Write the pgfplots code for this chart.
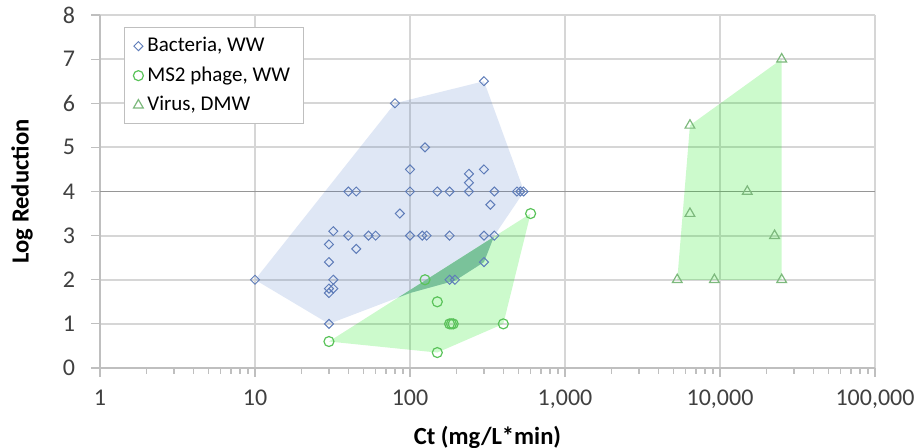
\documentclass[border=0pt]{standalone}
\usepackage{fontspec}
\setmainfont{Carlito}
\usepackage{pgfplots}
\pgfplotsset{compat=1.18}
\usepackage{pgfplotstable}

\definecolor{gridgray}{RGB}{214,214,214}
\definecolor{axgray}{RGB}{191,191,191}
\definecolor{darkgrid}{RGB}{150,150,150}
\definecolor{bactfill}{RGB}{68,114,196}
\definecolor{bactmark}{RGB}{95,125,185}
\definecolor{greenfill}{RGB}{0,230,0}
\definecolor{ms2mark}{RGB}{90,195,90}
\definecolor{virmark}{RGB}{125,185,125}
\definecolor{overlap}{RGB}{122,194,154}
\definecolor{labgray}{RGB}{64,64,64}

% measured points
\pgfplotstableread{
x y
300 6.5
80 6
125 5
100 4.5
240 4.4
300 4.5
240 4.2
40 4
45 4
100 4
150 4
180 4
240 4
350 4
490 4
515 4
540 4
330 3.7
86 3.5
32 3.1
40 3
54 3
60 3
100 3
120 3
128 3
180 3
300 3
350 3
30 2.8
45 2.7
30 2.4
300 2.4
32 2
180 2
195 2
30 1.8
32 1.8
30 1.7
10 2
30 1
}\bacteria

\pgfplotstableread{
x y
30 0.6
125 2
150 1.5
180 1
185 1
190 1
400 1
600 3.5
150 0.35
}\msphage

\pgfplotstableread{
x y
25000 7
6400 5.5
15000 4
6400 3.5
22500 3
5300 2
9200 2
25000 2
}\virus

% hull outlines
\pgfplotstableread{
x y
10 2
80 6
300 6.5
545 4
350 3
300 2.4
195 1.98
100 1.7
30 1
10 2
}\bacthull

\pgfplotstableread{
x y
30 0.6
600 3.5
400 1
150 0.35
30 0.6
}\mshull

\pgfplotstableread{
x y
5300 2
6400 5.5
25000 7
25000 2
5300 2
}\virhull

\pgfplotstableread{
x y
84.3 1.6
100 1.7
195 1.98
300 2.4
347 2.97
84.3 1.6
}\overlaphull

\begin{document}
\begin{tikzpicture}
\useasboundingbox (-50pt,-40pt) rectangle (410.5pt,184pt);
\begin{axis}[
  scale only axis, width=387.5pt, height=176.5pt,
  xmode=log, xmin=1, xmax=100000, ymin=0, ymax=8,
  xtick={1,10,100,1000,10000,100000},
  xticklabels={1,10,100,{1,000},{10,000},{100,000}},
  minor xtick={2,3,4,5,6,7,8,9,20,30,40,50,60,70,80,90,200,300,400,500,600,700,800,900,
    2000,3000,4000,5000,6000,7000,8000,9000,20000,30000,40000,50000,60000,70000,80000,90000},
  ytick={0,1,2,3,4,5,6,7,8},
  /pgf/number format/assume math mode=true,
  axis x line*=bottom, axis y line*=left,
  tick align=outside,
  major tick length=4.5pt, minor tick length=3pt,
  tick style={axgray, line width=0.6pt},
  axis line style={axgray, line width=0.8pt},
  grid=major, major grid style={gridgray, line width=0.9pt},
  extra y ticks={4}, extra y tick labels={},
  extra y tick style={major grid style={darkgrid, line width=0.9pt}},
  tick label style={labgray, font=\fontsize{12}{14}\selectfont},
  xticklabel style={yshift=-3pt},
  yticklabel style={xshift=-4.5pt},
  xlabel={Ct (mg/L*min)}, ylabel={Log Reduction},
  label style={font=\fontsize{12.3}{14}\selectfont\bfseries, black},
  xlabel style={at={(axis description cs:0.5,-0.1955)}, anchor=center},
  ylabel style={at={(axis description cs:-0.1006,0.5)}, anchor=center},
  legend style={at={(0,1)}, anchor=north west, xshift=12pt, yshift=-6pt,
    draw=axgray, fill=white, font=\fontsize{10.5}{12}\selectfont,
    row sep=2pt, inner xsep=4.5pt, inner ysep=3pt, cells={anchor=west}},
  legend cell align=left,
]
\addplot[draw=none, fill=bactfill, fill opacity=0.17, forget plot] table {\bacthull};
\addplot[draw=none, fill=greenfill, fill opacity=0.2, forget plot] table {\mshull};
\addplot[draw=none, fill=greenfill, fill opacity=0.2, forget plot] table {\virhull};
\addplot[draw=none, fill=overlap, forget plot] table {\overlaphull};

\addplot[only marks, mark=square, mark size=1.6pt,
  mark options={draw=bactmark, fill=none, rotate=45, line width=0.5pt}] table {\bacteria};
\addlegendentry{Bacteria, WW}
\addplot[only marks, mark=o, mark size=2.5pt,
  mark options={draw=ms2mark, fill=none, line width=0.6pt}] table {\msphage};
\addlegendentry{MS2 phage, WW}
\addplot[only marks, mark=triangle, mark size=2.8pt,
  mark options={draw=virmark, fill=none, line width=0.6pt}] table {\virus};
\addlegendentry{Virus, DMW}
\end{axis}
\end{tikzpicture}
\end{document}
